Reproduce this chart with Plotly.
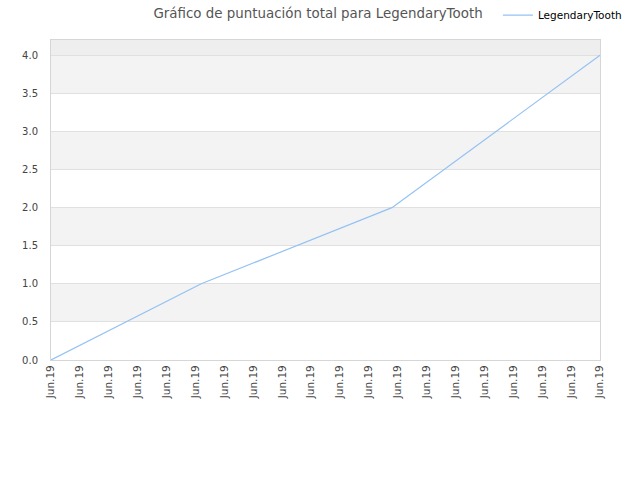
import plotly.graph_objects as go

# data
player = "LegendaryTooth"
x_pos = [0, 5.2, 11.8, 19]          # position along the date axis
scores = [0.0, 1.0, 2.0, 4.0]
tick_labels = ["Jun.19"] * 20
y_ticks = [0.0, 0.5, 1.0, 1.5, 2.0, 2.5, 3.0, 3.5, 4.0]
y_top = 4.2

fig = go.Figure()
fig.add_trace(go.Scatter(
    x=x_pos, y=scores, mode="lines", name=player,
    line=dict(color="#94c2f3", width=1.2),
))

# alternating background bands
shapes = []
for i in range(len(y_ticks) - 1):
    if i % 2 == 1:
        shapes.append(dict(type="rect", xref="paper", yref="y", x0=0, x1=1,
                           y0=y_ticks[i], y1=y_ticks[i + 1],
                           fillcolor="#f3f3f3", line_width=0, layer="below"))
shapes.append(dict(type="rect", xref="paper", yref="y", x0=0, x1=1,
                   y0=y_ticks[-1], y1=y_top,
                   fillcolor="#eeeeee", line_width=0, layer="below"))

fig.update_layout(
    width=640, height=480,
    margin=dict(l=51, r=40, t=40, b=120, autoexpand=False),
    paper_bgcolor="white", plot_bgcolor="white",
    font=dict(family="DejaVu Sans", size=10, color="#444444"),
    title=dict(text="Gráfico de puntuación total para " + player,
               x=0.497, xanchor="center", y=0.973, yanchor="middle",
               font=dict(size=13.4, color="#555555")),
    showlegend=True,
    legend=dict(x=0.814, xanchor="left", y=1.078, yanchor="middle",
                font=dict(size=10.5, color="#000000"), bgcolor="rgba(0,0,0,0)",
                itemwidth=30),
    shapes=shapes,
)
fig.update_xaxes(
    range=[0, len(tick_labels) - 1], tickmode="array",
    tickvals=list(range(len(tick_labels))), ticktext=tick_labels,
    tickangle=-90, showgrid=False, showline=True, linecolor="#d6d6d6",
    mirror=True, ticks="", zeroline=False, tickfont=dict(size=10.5),
    automargin=False,
)
fig.update_yaxes(
    range=[0, y_top], tickmode="array", tickvals=y_ticks,
    ticktext=[f"{v:.1f}" for v in y_ticks],
    showgrid=True, gridcolor="#e0e0e0", showline=True, linecolor="#d6d6d6",
    mirror=True, ticks="", zeroline=False, tickfont=dict(size=10),
    ticklabelstandoff=10, automargin=False,
)

# drop the browser's default body margin so the figure fills the window
fig.write_html("out.html", config={"displayModeBar": False},
               post_script="document.body.style.margin='0';")
